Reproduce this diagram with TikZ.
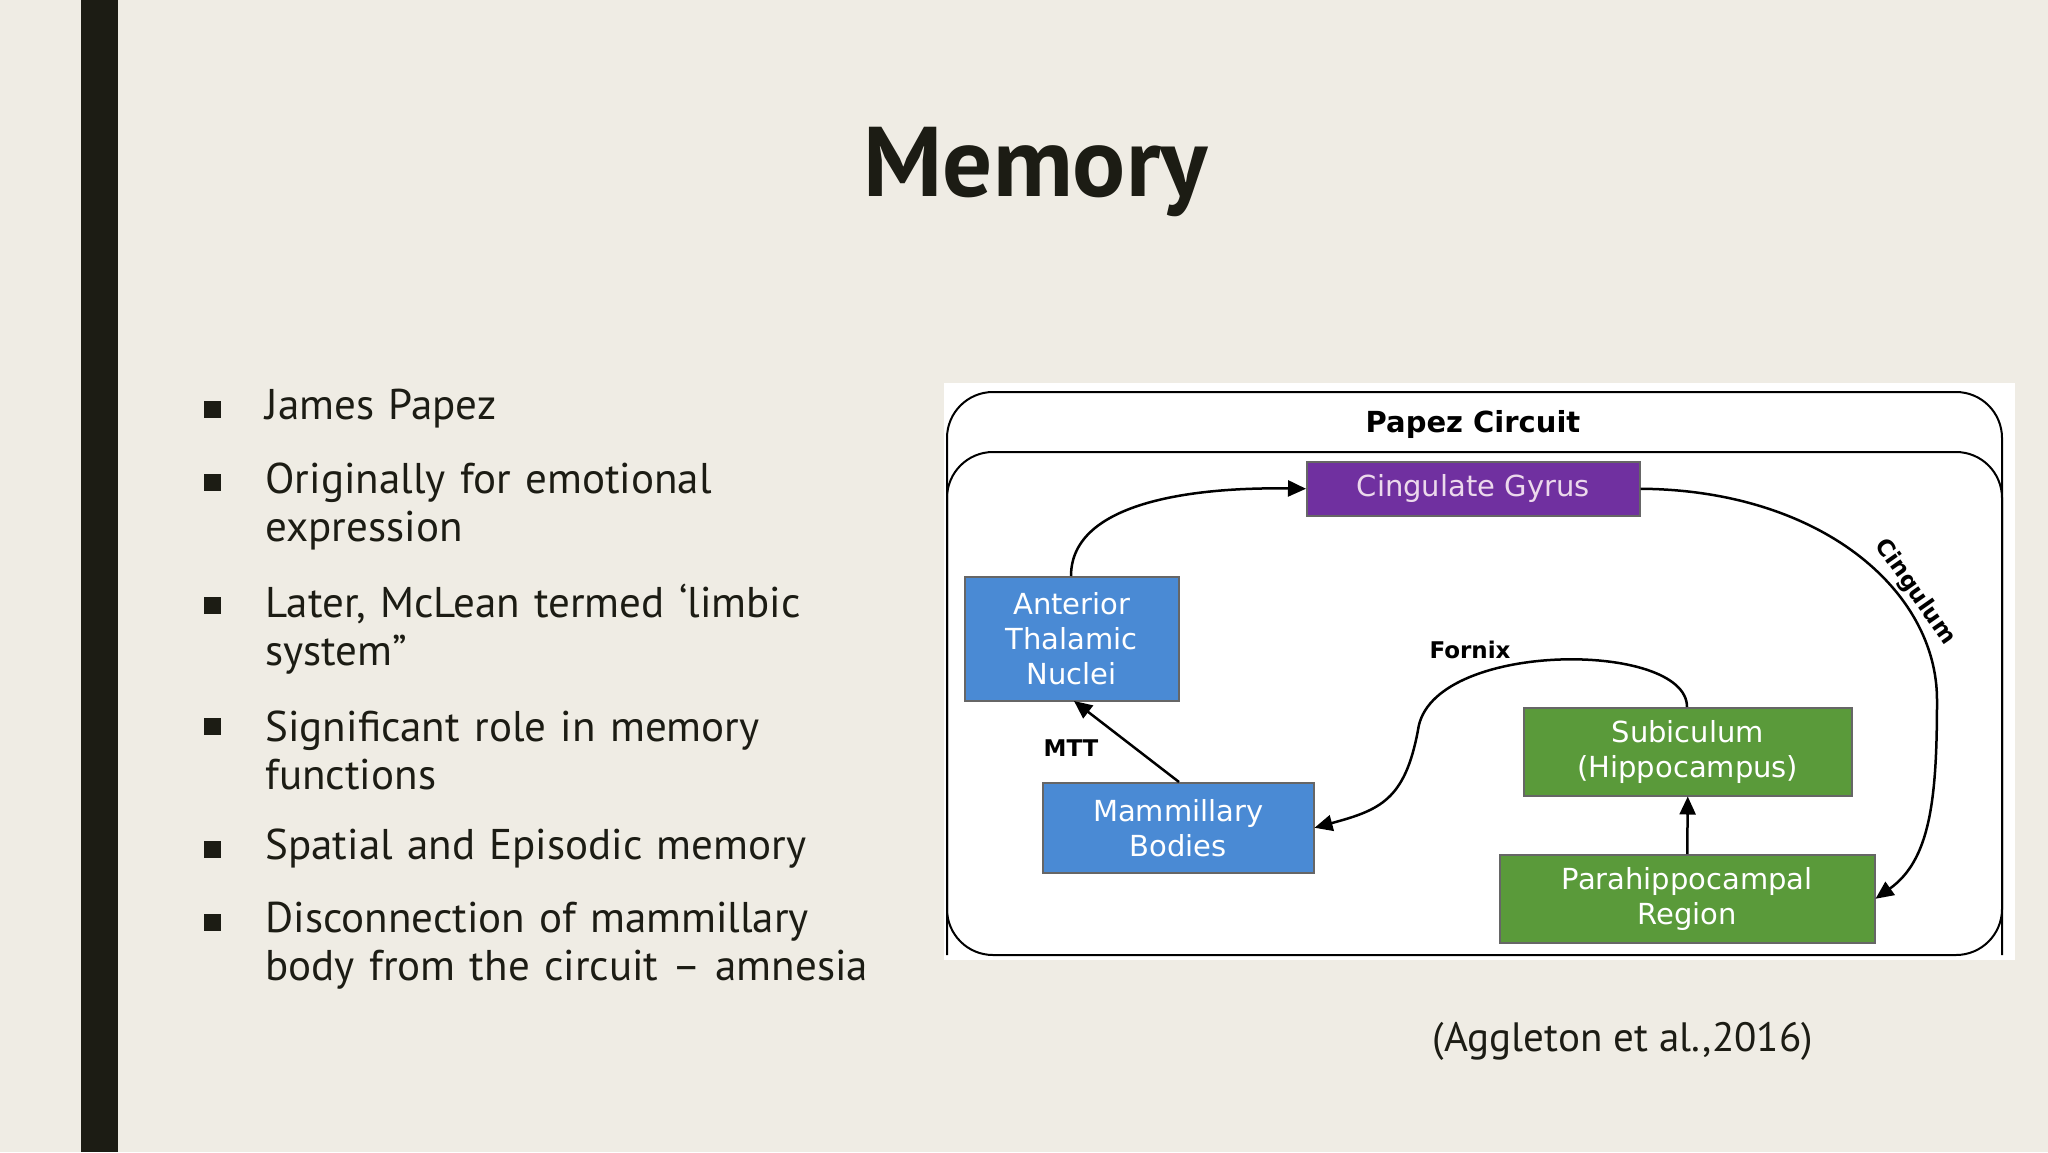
\documentclass[tikz,border=0pt]{standalone}
\usepackage{fontspec}
\setmainfont{PT Sans}
\newfontfamily\calfnt{DejaVu Sans}
\usetikzlibrary{arrows.meta}
\definecolor{bg}{HTML}{EFECE4}
\definecolor{bar}{HTML}{1C1C14}
\definecolor{cg}{HTML}{7030A0}
\definecolor{bl}{HTML}{4A8AD4}
\definecolor{gr}{HTML}{5A9A3A}
\begin{document}
\begin{tikzpicture}[x=1pt,y=-1pt,
  box/.style={draw=black!60,line width=1.5pt,inner sep=0pt,anchor=north west,align=center,text=white,font=\calfnt\fontsize{29}{35}\selectfont},
  conn/.style={line width=2.5pt,-{Triangle[length=18pt,width=16pt]}},
  lab/.style={font=\calfnt\bfseries\fontsize{23}{26}\selectfont},
  bul/.style={anchor=west,align=left,font=\fontsize{43}{48}\selectfont,text width=700pt},
  sq/.style={fill=bar,minimum size=17pt,inner sep=0pt}]
\fill[bg] (0,0) rectangle (2048,1152);
\useasboundingbox (0,0) rectangle (2048,1152);
\fill[bar] (81,0) rectangle (118,1152);
\node[font=\bfseries\fontsize{99}{110}\selectfont,text=bar] (title) at (1036,172) {Memory};
% bullets
\foreach \y/\q/\t [count=\i] in {409/409/{James Papez},506/482/{Originally for emotional\\expression},629/605/{Later, McLean termed ‘limbic\\system”},750/726/{Significant role in memory\\functions},849/849/{Spatial and Episodic memory},946/922/{Disconnection of mammillary\\body from the circuit – amnesia}}{
  \node[sq] (s\i) at (212,\q) {};
  \node[bul,text=bar] (b\i) at (262,\y) {\t};
}
% diagram
\fill[white] (944,383) rectangle (2015,960);
\draw[line width=2pt,rounded corners=46pt] (947,392) rectangle (2002,955);
\draw[line width=2pt,rounded corners=46pt] (947,955) -- (947,452) -- (2002,452) -- (2002,955);
\node[font=\calfnt\bfseries\fontsize{29}{34}\selectfont] (pc) at (1473,424) {Papez Circuit};
\node[box,fill=cg,text=violet!15,minimum width=333pt,minimum height=54pt] (cg) at (1306,461) {Cingulate Gyrus};
\node[box,fill=bl,minimum width=214pt,minimum height=124pt] (atn) at (964,576) {Anterior\\Thalamic\\Nuclei};
\node[box,fill=bl,minimum width=271pt,minimum height=90pt] (mb) at (1042,782) {Mammillary\\Bodies};
\node[box,fill=gr,minimum width=328pt,minimum height=88pt] (sub) at (1523,707) {Subiculum\\(Hippocampus)};
\node[box,fill=gr,minimum width=375pt,minimum height=88pt] (ph) at (1499,854) {Parahippocampal\\Region};
\coordinate (atnT) at (1071,576);
\coordinate (subT) at (1687,707);
\draw[conn] (atnT) .. controls (1071,500) and (1200,487) .. (cg.west);
\draw[conn] (cg.east) .. controls (1820,490) and (1937,590) .. (1937,700) .. controls (1937,800) and (1930,860) .. (ph.east);
\draw[conn] (subT) .. controls (1687,640) and (1430,640) .. (1418,730) .. controls (1405,800) and (1380,810) .. (mb.east);
\draw[conn] (1179,782) -- (1074,701);
\draw[conn] (ph.north) -- (sub.south);
\node[lab] (mtt) at (1071,748) {MTT};
\node[lab] (fx) at (1470,650) {Fornix};
\node[lab,rotate=-55] (cgl) at (1915,592) {Cingulum};
\node[font=\fontsize{41}{46}\selectfont,text=bar] (cit) at (1623,1041) {(Aggleton et al.,2016)};
\end{tikzpicture}
\end{document}
